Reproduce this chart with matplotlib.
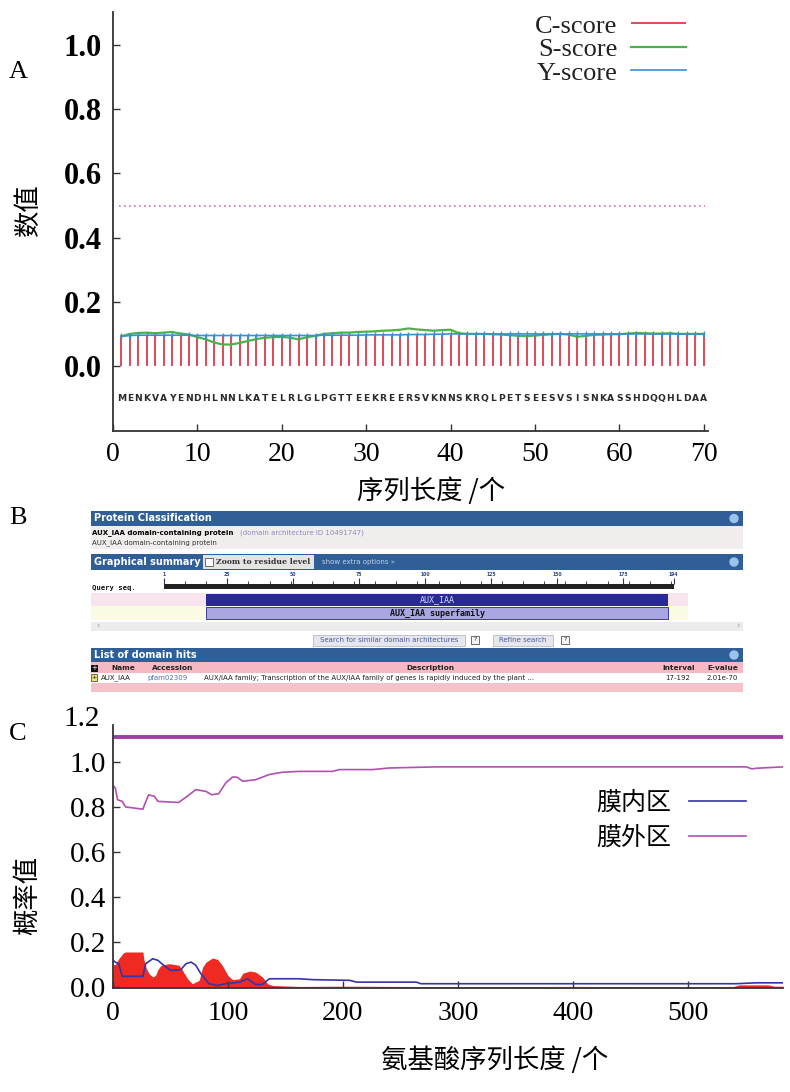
import numpy as np
import matplotlib.pyplot as plt
from matplotlib.patches import Rectangle, Circle

plt.rcParams['font.family'] = ['Liberation Serif', 'Noto Sans CJK SC']
CJK = ['Noto Sans CJK SC', 'DejaVu Sans']

# ---------------- A: SignalP scores ----------------
seq = list("MENKVAYENDHLNNLKATELRLGLPGTTEEKREERSVKNNSKRQLPETSEESVSISNKASSHDQQHLDAA")
pos_a = np.arange(1, len(seq) + 1)
c_score = [0.097, 0.097, 0.097, 0.097, 0.097, 0.097, 0.097, 0.097, 0.097, 0.097,
           0.097, 0.097, 0.097, 0.097, 0.097, 0.097, 0.097, 0.097, 0.097, 0.097,
           0.097, 0.097, 0.097, 0.097, 0.097, 0.097, 0.097, 0.097, 0.097, 0.097,
           0.097, 0.097, 0.097, 0.097, 0.097, 0.097, 0.097, 0.097, 0.097, 0.097,
           0.097, 0.097, 0.097, 0.097, 0.097, 0.097, 0.097, 0.097, 0.097, 0.097,
           0.097, 0.097, 0.097, 0.097, 0.097, 0.097, 0.097, 0.097, 0.097, 0.097,
           0.097, 0.097, 0.097, 0.097, 0.097, 0.097, 0.097, 0.097, 0.097, 0.097]
s_score = [0.093, 0.100, 0.103, 0.104, 0.102, 0.104, 0.106, 0.101, 0.098, 0.090,
           0.083, 0.073, 0.067, 0.067, 0.072, 0.078, 0.084, 0.088, 0.090, 0.091,
           0.088, 0.083, 0.090, 0.094, 0.100, 0.102, 0.104, 0.104, 0.106, 0.107,
           0.108, 0.110, 0.111, 0.113, 0.117, 0.114, 0.112, 0.110, 0.112, 0.113,
           0.102, 0.100, 0.100, 0.100, 0.099, 0.098, 0.096, 0.094, 0.093, 0.095,
           0.097, 0.099, 0.100, 0.098, 0.091, 0.094, 0.097, 0.098, 0.099, 0.099,
           0.101, 0.103, 0.102, 0.101, 0.101, 0.102, 0.100, 0.100, 0.100, 0.100]
y_score = [0.092, 0.095, 0.096, 0.096, 0.096, 0.096, 0.096, 0.096, 0.096, 0.095,
           0.095, 0.095, 0.095, 0.095, 0.095, 0.095, 0.095, 0.095, 0.095, 0.095,
           0.095, 0.095, 0.095, 0.095, 0.096, 0.096, 0.096, 0.096, 0.096, 0.097,
           0.097, 0.097, 0.097, 0.097, 0.098, 0.098, 0.098, 0.099, 0.099, 0.100,
           0.100, 0.100, 0.100, 0.100, 0.100, 0.100, 0.100, 0.100, 0.100, 0.100,
           0.100, 0.100, 0.100, 0.100, 0.100, 0.100, 0.100, 0.100, 0.100, 0.100,
           0.100, 0.100, 0.100, 0.100, 0.100, 0.100, 0.100, 0.100, 0.100, 0.100]
cutoff = 0.5
xticks_a = [0, 10, 20, 30, 40, 50, 60, 70]
yticks_a = [0.0, 0.2, 0.4, 0.6, 0.8, 1.0]

# ---------------- B: CDD search summary ----------------
query_len = 194
ruler_ticks = [1, 25, 50, 75, 100, 125, 150, 175, 194]
hit_start, hit_end = 17, 192
hit_name = "AUX_IAA"
super_name = "AUX_IAA superfamily"
table_cols = ["Name", "Accession", "Description", "Interval", "E-value"]
table_row = ["AUX_IAA", "pfam02309",
             "AUX/IAA family; Transcription of the AUX/IAA family of genes is rapidly induced by the plant ...",
             "17-192", "2.01e-70"]

# ---------------- C: TMHMM posterior ----------------
tm_x = [0, 2, 5, 9, 11, 26, 27, 29, 31.5, 34.6, 37, 39, 41.8, 49, 57.5, 60.5, 64.9, 69,
        75, 78, 81, 86.5, 91, 95, 100, 104, 110, 113, 119, 124, 130, 134.5, 139, 162,
        200, 300, 400, 500, 540, 545, 570, 575, 583]
tm_y = [0.10, 0.10, 0.126, 0.152, 0.156, 0.156, 0.119, 0.082, 0.059, 0.045, 0.052, 0.077,
        0.097, 0.104, 0.097, 0.074, 0.037, 0.015, 0.03, 0.089, 0.111, 0.129, 0.123, 0.097,
        0.052, 0.033, 0.037, 0.062, 0.071, 0.067, 0.045, 0.015, 0.007, 0.003, 0.004,
        0.002, 0.003, 0.002, 0.003, 0.010, 0.010, 0.004, 0.004]
in_x = [1, 2, 5, 8, 26, 28.5, 34.6, 39, 46, 50.5, 59, 63.5, 68, 72, 76.5, 83.5, 91, 98,
        110, 117, 124, 130, 136, 162, 174, 206, 212, 264, 268, 542, 560, 583]
in_y = [0.115, 0.111, 0.104, 0.048, 0.048, 0.104, 0.126, 0.119, 0.089, 0.074, 0.077,
        0.104, 0.111, 0.097, 0.059, 0.015, 0.007, 0.015, 0.022, 0.037, 0.012, 0.012,
        0.037, 0.037, 0.033, 0.030, 0.022, 0.022, 0.015, 0.015, 0.019, 0.019]
out_x = [1, 2, 4, 8, 11, 26, 28, 31, 36, 39, 57, 64, 72, 81, 86, 92, 98, 104, 108, 113,
         124, 136, 147, 162, 191, 197, 226, 240, 281, 551, 556, 560, 583]
out_y = [0.89, 0.884, 0.832, 0.825, 0.80, 0.79, 0.817, 0.854, 0.847, 0.825, 0.82, 0.845,
         0.877, 0.869, 0.854, 0.859, 0.906, 0.933, 0.932, 0.914, 0.921, 0.944, 0.954,
         0.958, 0.958, 0.966, 0.966, 0.973, 0.978, 0.978, 0.969, 0.972, 0.978]
outside_bar = 1.11
xticks_c = [0, 100, 200, 300, 400, 500]
yticks_c = [0.0, 0.2, 0.4, 0.6, 0.8, 1.0]

W, H = 790, 1092
fig = plt.figure(figsize=(W / 100, H / 100), dpi=100)


def px_axes(l, t, r, b):
    return fig.add_axes([l / W, 1 - b / H, (r - l) / W, (b - t) / H])


def style_axes(ax):
    for s in ['top', 'right']:
        ax.spines[s].set_visible(False)
    for s in ['left', 'bottom']:
        ax.spines[s].set_linewidth(1.3)
        ax.spines[s].set_color('#333333')
    ax.tick_params(direction='in', length=5, width=1, color='#333333')


# ---------------- panel A ----------------
axA = px_axes(113, 12, 708, 431)
style_axes(axA)
axA.vlines(pos_a, 0, c_score, color='#dd3b4b', lw=1.3, label='C-score')
axA.plot(pos_a, s_score, color='#47b547', lw=1.6, label='S-score')
axA.plot(pos_a, y_score, color='#3b8fd0', lw=1.2, marker='|', ms=4, label='Y-score')
axA.axhline(cutoff, xmin=0.01, xmax=0.995, color='#d070b8', lw=1.2, ls=(0, (1, 2)))
for p, ch in zip(pos_a, seq):
    axA.text(p, -0.1, ch, ha='center', va='center', fontsize=6.6, fontweight='bold',
             family='DejaVu Sans', color='#2a2a2a')
axA.set_xlim(0, 70.5)
axA.set_ylim(-0.2025, 1.103)
axA.set_xticks(xticks_a)
axA.set_xticklabels([str(t) for t in xticks_a], fontsize=20)
axA.set_yticks(yticks_a)
axA.set_yticklabels(['%.1f' % t for t in yticks_a], fontsize=22, fontweight='bold')
axA.tick_params(axis='x', pad=8)
axA.tick_params(axis='y', pad=8)
legA = axA.legend(loc='upper right', bbox_to_anchor=(0.963, 0.995), frameon=False,
                  markerfirst=False, fontsize=19, handlelength=2.1, handletextpad=0.5,
                  labelspacing=0.0, borderpad=0, borderaxespad=0)
for t in legA.get_texts():
    t.set_color('#222222')
for h in legA.legend_handles:
    if hasattr(h, 'set_marker'):
        h.set_marker('None')
fig.text(18 / W, 1 - 72 / H, 'A', fontsize=19, ha='center', va='center')
fig.text(28 / W, 1 - 210 / H, '数值', fontsize=19, rotation=90, ha='center',
         va='center', family=CJK)
fig.text(431 / W, 1 - 491 / H, '序列长度 /个', fontsize=19, ha='center', va='center',
         family=CJK)

# ---------------- panel B ----------------
axB = px_axes(0, 500, 790, 700)
axB.set_xlim(0, 790)
axB.set_ylim(700, 500)
axB.axis('off')
BLUE = '#2f5f96'
SANS = 'DejaVu Sans'


def box(x0, y0, x1, y1, fc, ec='none', lw=0.6):
    axB.add_patch(Rectangle((x0, y0), x1 - x0, y1 - y0, facecolor=fc, edgecolor=ec, lw=lw))


def bar_title(y0, y1, txt):
    box(91, y0, 743, y1, BLUE)
    axB.text(94, (y0 + y1) / 2, txt, color='white', fontsize=7, fontweight='bold',
             family=SANS, va='center')
    axB.add_patch(Circle((734, (y0 + y1) / 2), 4, color='#9cc2ee'))


bar_title(511, 526, 'Protein Classification')
box(91, 526, 743, 549, '#f1eded')
axB.text(92, 533, 'AUX_IAA domain-containing protein', fontsize=5.0, fontweight='bold',
         family=SANS, va='center')
axB.text(240, 533, '(domain architecture ID 10491747)', fontsize=5.0, color='#8c8cbc',
         family=SANS, va='center')
axB.text(92, 543, 'AUX_IAA domain-containing protein', fontsize=5.0, family=SANS,
         va='center', color='#333333')

bar_title(554, 570, 'Graphical summary')
box(203, 555, 314, 569, '#e4e4e4')
box(205, 558, 213, 566, 'white', ec='#555555')
axB.text(216, 562, 'Zoom to residue level', fontsize=5.6, fontweight='bold',
         family='DejaVu Serif', color='#333333', va='center')
axB.text(322, 562, 'show extra options \u00bb', fontsize=5, family=SANS, color='#c0d0ea',
         va='center')

# graphical rows in residue units
axG = px_axes(91, 574, 743, 621)
axG.set_xlim(1 - (164 - 91) / 2.64, 1 + (743 - 164) / 2.64)
axG.set_ylim(621, 574)
axG.axis('off')
axG.add_patch(Rectangle((axG.get_xlim()[0], 593), 597 / 2.64, 13, facecolor='#f7e4ef', lw=0))
axG.add_patch(Rectangle((axG.get_xlim()[0], 606), 597 / 2.64, 14, facecolor='#fbfbe4', lw=0))
axG.barh(586.5, query_len - 1, left=1, height=5, color='#222222')
axG.vlines(np.arange(1, query_len + 1, 8), 581, 584, color='#222222', lw=0.6)
axG.vlines(ruler_ticks, 578, 584, color='#333366', lw=0.8)
for t in ruler_ticks:
    axG.text(t, 577.5, str(t), fontsize=3.3, fontweight='bold', ha='center', va='bottom',
             color='#334488', family=SANS)
axG.barh(600, hit_end - hit_start, left=hit_start, height=12, color='#29299a')
axG.text((hit_start + hit_end) / 2, 600, hit_name, fontsize=6, color='#d4d4ff',
         ha='center', va='center', family='DejaVu Sans Mono')
axG.barh(613, hit_end - hit_start, left=hit_start, height=12, color='#aaa6e2',
         edgecolor='#3c3c9c', lw=0.7)
axG.text((hit_start + hit_end) / 2, 613, super_name, fontsize=6, fontweight='bold',
         color='#111111', ha='center', va='center', family='DejaVu Sans Mono')
for y, lab in [(588, 'Query seq.'), (599.5, 'Specific hits'), (612.5, 'Superfamilies')]:
    axB.text(92, y, lab, fontsize=5.2, fontweight='bold', family='DejaVu Sans Mono',
             va='center', color='#111111')

box(91, 622, 743, 631, '#ececec')
axB.text(96, 626.5, '\u2039', fontsize=6, color='#999999', va='center', family=SANS)
axB.text(736, 626.5, '\u203a', fontsize=6, color='#999999', va='center', family=SANS)

box(313, 635, 465, 646, '#e6e6ee', ec='#b8b8c4')
axB.text(389, 640.5, 'Search for similar domain architectures', fontsize=5,
         color='#4a5a9a', ha='center', va='center', family=SANS)
box(493, 635, 553, 646, '#e6e6ee', ec='#b8b8c4')
axB.text(523, 640.5, 'Refine search', fontsize=5, color='#4a5a9a', ha='center',
         va='center', family=SANS)
for qx in [475, 565]:
    box(qx - 4, 636, qx + 4, 644, '#f4f4f4', ec='#555555')
    axB.text(qx, 640, '?', fontsize=4.5, ha='center', va='center', family=SANS,
             color='#333333')

bar_title(648, 662, 'List of domain hits')
box(91, 662, 743, 673, '#f6b8c2')
box(91, 665, 98, 672, '#111111')
axB.text(94.5, 668.5, '+', fontsize=5, color='white', ha='center', va='center',
         family=SANS)
col_x = [111, 152, 430, 662, 707]
col_ha = ['left', 'left', 'center', 'left', 'left']
for x, ha, lab in zip(col_x, col_ha, table_cols):
    axB.text(x, 668, lab, fontsize=5.3, fontweight='bold', family=SANS, ha=ha,
             va='center', color='#222222')
box(91, 674, 97, 681, '#f0e070', ec='#333333', lw=0.5)
axB.text(94, 677.5, '+', fontsize=4.5, ha='center', va='center', family=SANS)
row_x = [101, 147, 204, 665, 707]
row_c = ['#222222', '#5070b0', '#222222', '#222222', '#222222']
for x, c, val in zip(row_x, row_c, table_row):
    axB.text(x, 678, val, fontsize=5, family=SANS, va='center', color=c)
box(91, 683, 743, 692, '#f6c2ca')
fig.text(18 / W, 1 - 518 / H, 'B', fontsize=19, ha='center', va='center')

# ---------------- panel C ----------------
axC = px_axes(113, 725, 783, 988)
style_axes(axC)
axC.fill_between(tm_x, tm_y, 0, color='#ee2a22', lw=0)
axC.plot(in_x, in_y, color='#3434a8', lw=1.2, label='膜内区')
axC.plot(out_x, out_y, color='#b050b0', lw=1.2, label='膜外区')
axC.axhline(outside_bar, color='#a23ea2', lw=2.8)
axC.set_xlim(0, 583)
axC.set_ylim(-0.004, 1.164)
axC.set_xticks(xticks_c)
axC.set_xticklabels([str(t) for t in xticks_c], fontsize=20)
axC.set_yticks(yticks_c)
axC.set_yticklabels(['%.1f' % t for t in yticks_c], fontsize=21)
axC.text(-0.02, 1.19, '1.2', transform=axC.get_yaxis_transform(), fontsize=21,
         ha='right', va='center', clip_on=False)
axC.tick_params(axis='x', pad=9)
axC.tick_params(axis='y', pad=5)
legC = axC.legend(loc='upper right', bbox_to_anchor=((746 - 113) / 670, 0.752),
                  frameon=False, markerfirst=False, prop={'family': CJK, 'size': 18},
                  handlelength=2.3, handletextpad=0.7, labelspacing=0.33, borderpad=0,
                  borderaxespad=0)
fig.text(18 / W, 1 - 734 / H, 'C', fontsize=19, ha='center', va='center')
fig.text(28 / W, 1 - 895 / H, '概率值', fontsize=19, rotation=90, ha='center',
         va='center', family=CJK)
fig.text(495 / W, 1 - 1060 / H, '氨基酸序列长度 /个', fontsize=19, ha='center',
         va='center', family=CJK)

fig.savefig('out.png', dpi=100)
